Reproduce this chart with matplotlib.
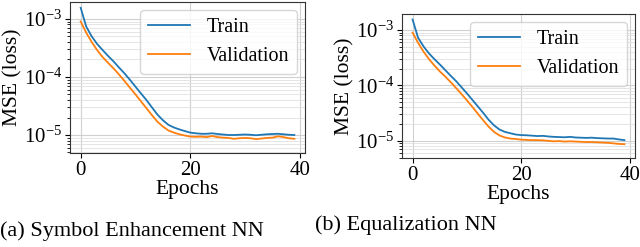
import matplotlib
matplotlib.use('Agg')
import matplotlib.pyplot as plt
import numpy as np

plt.rcParams['font.family'] = ['Liberation Serif', 'DejaVu Serif']
plt.rcParams['mathtext.fontset'] = 'stix'

epochs = np.arange(40)

# (a) Symbol Enhancement NN
train_a = [1.55e-3, 7.4e-4, 5.0e-4, 3.7e-4, 2.9e-4, 2.3e-4, 1.85e-4, 1.45e-4, 1.15e-4, 8.9e-5,
           6.8e-5, 5.2e-5, 4.0e-5, 3.0e-5, 2.25e-5, 1.8e-5, 1.5e-5, 1.35e-5, 1.25e-5, 1.17e-5,
           1.1e-5, 1.07e-5, 1.05e-5, 1.05e-5, 1.07e-5, 1.04e-5, 1.02e-5, 1.0e-5, 1.0e-5, 1.01e-5,
           1.02e-5, 1.01e-5, 0.99e-5, 1.01e-5, 1.03e-5, 1.04e-5, 1.05e-5, 1.03e-5, 1.01e-5, 1.0e-5]
val_a = [9.0e-4, 5.8e-4, 4.0e-4, 2.9e-4, 2.2e-4, 1.75e-4, 1.4e-4, 1.1e-4, 8.5e-5, 6.5e-5,
         5.0e-5, 3.8e-5, 2.9e-5, 2.2e-5, 1.7e-5, 1.4e-5, 1.2e-5, 1.1e-5, 1.03e-5, 9.8e-6,
         9.4e-6, 9.3e-6, 9.4e-6, 9.2e-6, 9.6e-6, 9.2e-6, 9.0e-6, 8.9e-6, 8.6e-6, 8.8e-6,
         8.9e-6, 8.8e-6, 8.5e-6, 8.7e-6, 8.9e-6, 9.0e-6, 9.5e-6, 9.2e-6, 8.8e-6, 8.6e-6]

# (b) Equalization NN
train_b = [1.55e-3, 7.3e-4, 5.1e-4, 3.8e-4, 3.0e-4, 2.4e-4, 1.9e-4, 1.5e-4, 1.2e-4, 9.3e-5,
           7.2e-5, 5.5e-5, 4.2e-5, 3.2e-5, 2.4e-5, 1.9e-5, 1.6e-5, 1.45e-5, 1.37e-5, 1.3e-5,
           1.27e-5, 1.26e-5, 1.24e-5, 1.22e-5, 1.23e-5, 1.2e-5, 1.18e-5, 1.17e-5, 1.16e-5, 1.18e-5,
           1.15e-5, 1.14e-5, 1.13e-5, 1.14e-5, 1.12e-5, 1.11e-5, 1.1e-5, 1.1e-5, 1.06e-5, 1.03e-5]
val_b = [9.0e-4, 5.9e-4, 4.1e-4, 3.0e-4, 2.3e-4, 1.8e-4, 1.45e-4, 1.15e-4, 9.0e-5, 7.0e-5,
         5.4e-5, 4.1e-5, 3.1e-5, 2.35e-5, 1.8e-5, 1.45e-5, 1.25e-5, 1.15e-5, 1.1e-5, 1.08e-5,
         1.05e-5, 1.04e-5, 1.03e-5, 1.03e-5, 1.02e-5, 1.0e-5, 0.98e-5, 0.99e-5, 0.97e-5, 0.98e-5,
         0.97e-5, 0.96e-5, 0.95e-5, 0.95e-5, 0.94e-5, 0.93e-5, 0.92e-5, 0.9e-5, 0.88e-5, 0.87e-5]

captions = ['(a) Symbol Enhancement NN', '(b) Equalization NN']

W, H = 640, 247
fig = plt.figure(figsize=(W / 100, H / 100), dpi=100)

ax_a = fig.add_axes([70 / W, (H - 153) / H, 235 / W, 151 / H])
ax_b = fig.add_axes([402 / W, (H - 158) / H, 233 / W, 144 / H])

for ax, tr, va in [(ax_a, train_a, val_a), (ax_b, train_b, val_b)]:
    ax.plot(epochs, tr, color='#1f77b4', linewidth=1.3, label='Train')
    ax.plot(epochs, va, color='#ff7f0e', linewidth=1.3, label='Validation')
    ax.set_yscale('log')
    ax.set_ylim(4.9e-6, 1.95e-3)
    ax.set_xticks([0, 20, 40])
    ax.grid(True, which='major', color='#d0d0d0', linewidth=0.8)
    ax.grid(True, which='minor', axis='y', color='#e0e0e0', linewidth=0.6)
    ax.tick_params(labelsize=15, pad=2)
    ax.set_xlabel('Epochs', fontsize=15.5, labelpad=0)
    ax.set_ylabel('MSE (loss)', fontsize=15.5, labelpad=1)
    ax.legend(loc='upper right', fontsize=14.5, handlelength=2.1, framealpha=0.8,
              borderaxespad=0.4)
    for s in ax.spines.values():
        s.set_color('#333333')

fig.text(0.0, 1 - 231 / H, captions[0], fontsize=16, va='center', ha='left')
fig.text(315 / W, 1 - 225 / H, captions[1], fontsize=16, va='center', ha='left')

fig.savefig('out.png', dpi=100)
